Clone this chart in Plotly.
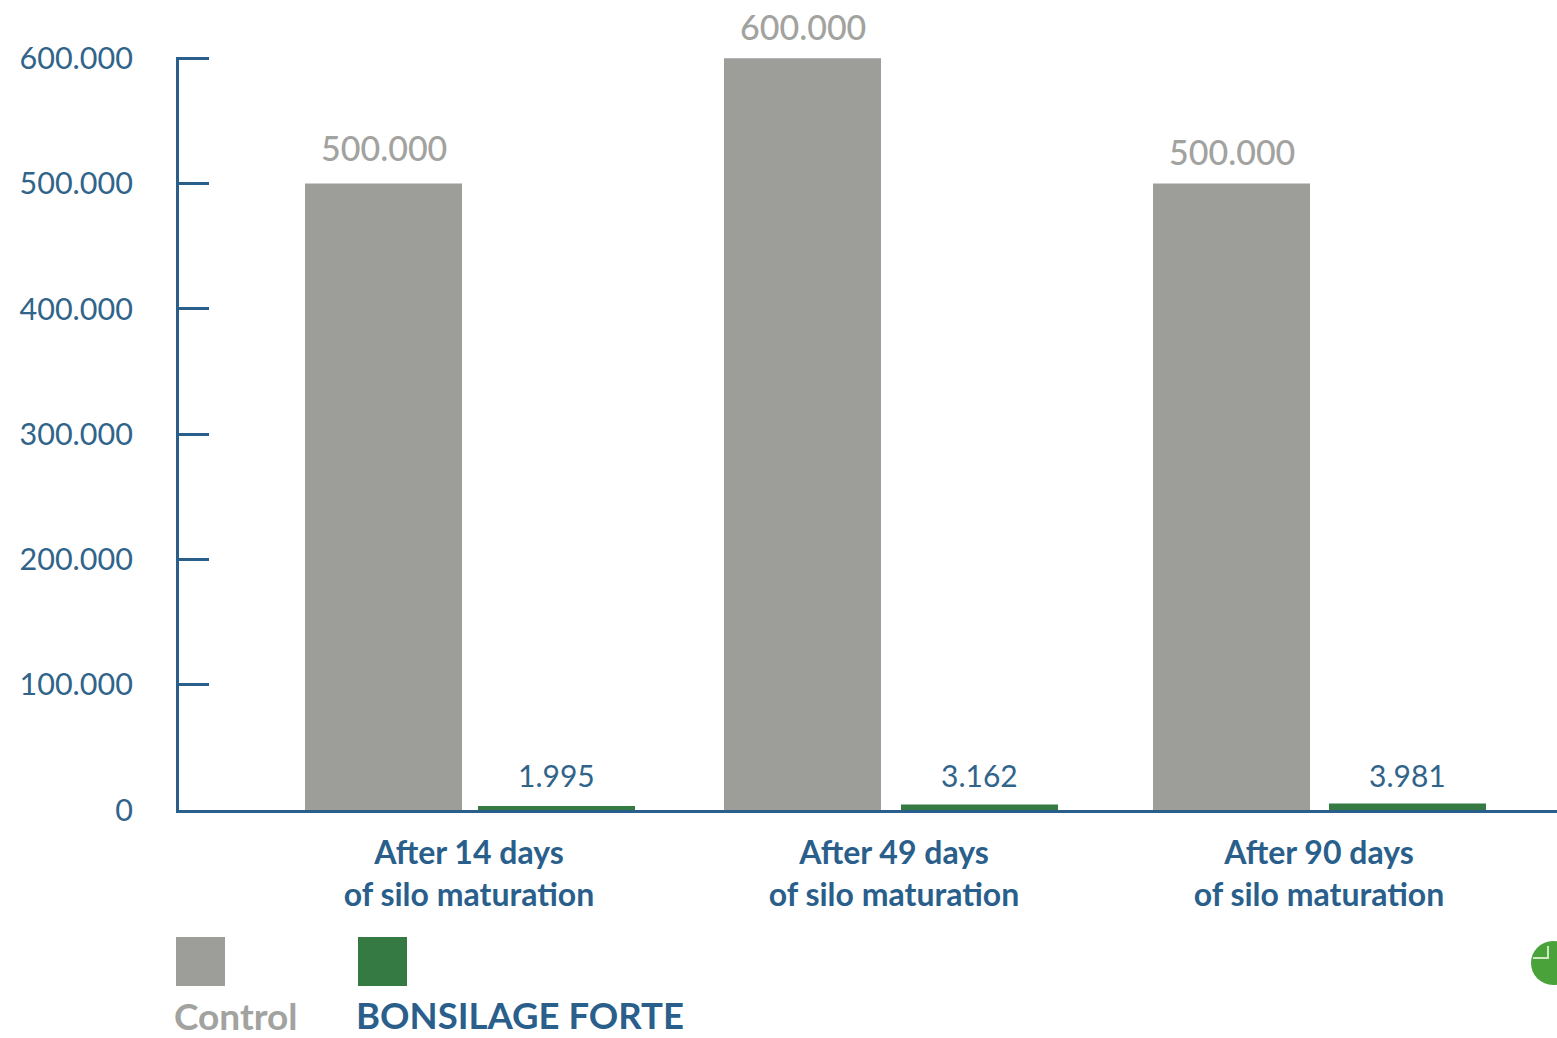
import plotly.graph_objects as go

categories = ["After 14 days<br>of silo maturation", "After 49 days<br>of silo maturation", "After 90 days<br>of silo maturation"]
control = [500000, 600000, 500000]
bonsilage = [1995, 3162, 3981]
control_labels = ["500.000", "600.000", "500.000"]
bonsilage_labels = ["1.995", "3.162", "3.981"]
y_ticks = [0, 100000, 200000, 300000, 400000, 500000, 600000]
y_tick_labels = ["0", "100.000", "200.000", "300.000", "400.000", "500.000", "600.000"]

W, H = 1557, 1038
L, R, T, B = 179, 0, 57, 228
PW, PH = W - L - R, H - T - B
UNIT = 425.0
BAR = 157 / UNIT
BLUE = "#2a5f8c"
TICK = "#30648a"
GRAY = "#9d9d9a"
GRAYTXT = "#a2a29f"
GREEN = "#357a43"
FONT = "Lato"

def px(x):
    return (x - L) / PW

def py(y):
    return 1 - (y - T) / PH

ctrl_off = [-164 / UNIT, -170 / UNIT, -166 / UNIT]
bons_off = [9 / UNIT, 7 / UNIT, 10 / UNIT]

fig = go.Figure()
fig.add_bar(x=categories, y=control, name="Control", width=BAR, offset=ctrl_off,
            marker=dict(color=GRAY, line=dict(width=0)), hoverinfo="x+y")
fig.add_bar(x=categories, y=bonsilage, name="BONSILAGE FORTE", width=BAR - 3 / UNIT, offset=[o + 1.5 / UNIT for o in bons_off],
            marker=dict(color=GREEN, line=dict(width=3, color=GREEN)), hoverinfo="x+y")

ann = []
ctrl_shift = [36, 32, 32]
for i, c in enumerate(categories):
    ann.append(dict(x=i + ctrl_off[i] + BAR / 2, y=control[i], text=control_labels[i], xref="x", yref="y", showarrow=False,
                    yshift=ctrl_shift[i], font=dict(family=FONT, size=34, color=GRAYTXT, weight=500)))
    ann.append(dict(x=i + bons_off[i] + BAR / 2, y=0, text=bonsilage_labels[i], xref="x", yref="y", showarrow=False,
                    yshift=35, font=dict(family=FONT, size=30, color=TICK)))
ann.append(dict(x=px(172), y=py(1015), xref="paper", yref="paper", xanchor="left", yanchor="middle", showarrow=False,
                text="<b>Control</b>", font=dict(family=FONT, size=37, color=GRAYTXT)))
ann.append(dict(x=px(354), y=py(1015), xref="paper", yref="paper", xanchor="left", yanchor="middle", showarrow=False,
                text="<b>BONSILAGE FORTE</b>", font=dict(family=FONT, size=36.5, color=BLUE)))

def pathpx(points):
    return "M " + " L ".join(f"{px(x):.5f} {py(y):.5f}" for x, y in points)

shapes = [
    dict(type="rect", xref="paper", yref="paper", x0=px(176), x1=px(225), y0=py(937), y1=py(986), fillcolor=GRAY, line=dict(width=0)),
    dict(type="rect", xref="paper", yref="paper", x0=px(358), x1=px(407), y0=py(937), y1=py(986), fillcolor=GREEN, line=dict(width=0)),
    dict(type="circle", xref="paper", yref="paper", x0=px(1531), x1=px(1575), y0=py(941), y1=py(985), fillcolor="#4aa23a", line=dict(width=0)),
    dict(type="path", xref="paper", yref="paper", path=pathpx([(1533, 958), (1548, 958), (1548, 946)]), line=dict(color="#cfe8c4", width=2)),
]

fig.update_layout(
    width=W, height=H, autosize=False, showlegend=False,
    margin=dict(l=L, r=R, t=T, b=B, pad=0),
    paper_bgcolor="white", plot_bgcolor="white",
    barmode="overlay", annotations=ann, shapes=shapes,
    font=dict(family=FONT),
    xaxis=dict(type="category", range=[-(469 - L) / UNIT, (W - 469) / UNIT], showgrid=False, zeroline=False,
               showline=True, linecolor=BLUE, linewidth=3, ticks="", ticklabelstandoff=13,
               tickfont=dict(family=FONT, size=32, color=BLUE, weight="bold")),
    yaxis=dict(range=[0, 601000], tickmode="array", tickvals=y_ticks, ticktext=y_tick_labels, showgrid=False, zeroline=False,
               showline=True, linecolor=BLUE, linewidth=3, ticks="inside", ticklen=30, tickwidth=3, tickcolor=BLUE,
               ticklabelstandoff=37, tickfont=dict(family=FONT, size=30.5, color=TICK)),
)
fig.write_html("out.html", config=dict(displayModeBar=False), post_script="document.body.style.margin='0';")
